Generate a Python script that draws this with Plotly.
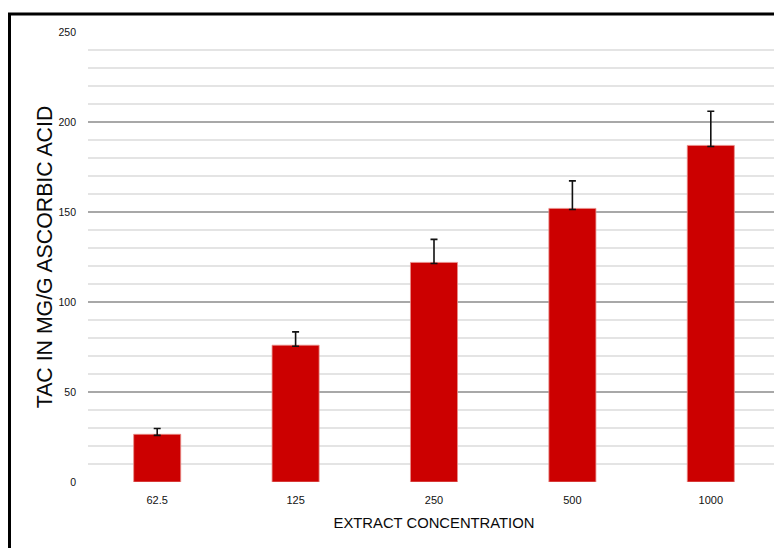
import plotly.graph_objects as go

categories = ["62.5", "125", "250", "500", "1000"]
tac_values = [26.5, 76.0, 122.0, 152.0, 187.0]
tac_errors = [3.2, 7.4, 12.8, 15.3, 19.0]
y_tick_vals = [0, 50, 100, 150, 200, 250]

# page body has an 8px default margin; figure is sized to fill the window
OFF = 8
W, H = 782 - OFF, 548 - OFF
ml, mr, mt, mb = 88 - OFF, 2, 32 - OFF, 66
pw = W - ml - mr
ph = H - mt - mb

def px_to_paper_x(px):
    return (px - OFF - ml) / pw

def px_to_paper_y(py):
    return (H - mb - (py - OFF)) / ph

fig = go.Figure()
fig.add_trace(go.Bar(
    x=categories,
    y=tac_values,
    marker=dict(color="#CC0000", line=dict(color="#E8908C", width=0.8)),
    error_y=dict(type="data", symmetric=False, array=tac_errors,
                 arrayminus=[0.6] * len(tac_errors),
                 color="#111111", thickness=1.6, width=3.5),
    showlegend=False,
))

fig.update_layout(
    width=W, height=H,
    margin=dict(l=ml, r=mr, t=mt, b=mb, pad=0),
    paper_bgcolor="white", plot_bgcolor="white",
    bargap=0.66,
    font=dict(family="Liberation Sans, Arial, sans-serif", color="#111111"),
    xaxis=dict(
        title=dict(text="EXTRACT CONCENTRATION",
                   font=dict(size=14.8, color="#0a0a0a"), standoff=12),
        tickfont=dict(size=11, color="#111111"),
        showgrid=False, showline=False, zeroline=False,
        ticks="", ticklabelstandoff=10,
    ),
    yaxis=dict(
        title=dict(text="TAC IN MG/G ASCORBIC ACID",
                   font=dict(size=21.3, color="#0a0a0a"), standoff=0),
        range=[0, 250],
        tickvals=y_tick_vals,
        tickfont=dict(size=10.5, color="#111111"),
        showgrid=True, gridcolor="#A8A8A8", gridwidth=1.5,
        zeroline=False, showline=False, ticks="",
        ticklabelstandoff=11,
        minor=dict(dtick=10, showgrid=True, gridcolor="#E4E4E4", gridwidth=1.5),
    ),
    shapes=[
        dict(type="rect", xref="paper", yref="paper",
             x0=px_to_paper_x(9.5), x1=px_to_paper_x(800),
             y0=px_to_paper_y(560), y1=px_to_paper_y(14),
             line=dict(color="black", width=3), fillcolor="rgba(0,0,0,0)",
             layer="above"),
    ],
)

fig.write_html("out.html")
